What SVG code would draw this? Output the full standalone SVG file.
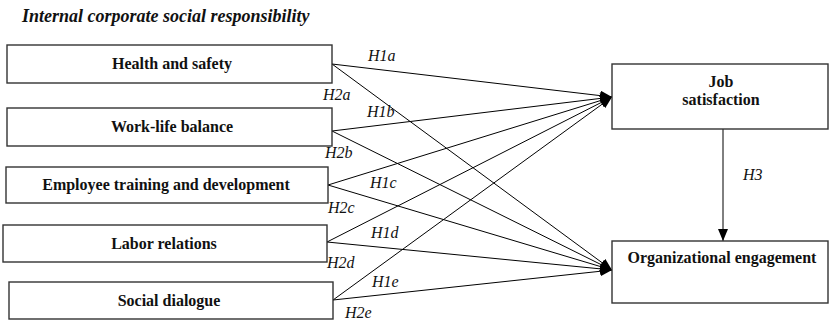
<svg xmlns="http://www.w3.org/2000/svg" width="829" height="321" viewBox="0 0 829 321">
<defs>
<style>
.box{fill:#fff;stroke:#333;stroke-width:1.4}
.bt{font-family:'Liberation Serif','Times New Roman',serif;font-weight:bold;font-size:16px;fill:#111;text-anchor:middle}
.lbl{font-family:'Liberation Serif','Times New Roman',serif;font-style:italic;font-size:16px;fill:#111}
.title{font-family:'Liberation Serif','Times New Roman',serif;font-style:italic;font-weight:bold;font-size:18px;fill:#111}
.ln{stroke:#000;stroke-width:1;fill:none;marker-end:url(#ah)}
</style>
<marker id="ah" markerUnits="userSpaceOnUse" markerWidth="12" markerHeight="10" refX="12" refY="5" orient="auto">
<path d="M0,0 L12,5 L0,10 Z" fill="#000"/>
</marker>
</defs>
<rect width="829" height="321" fill="#fff"/>
<text class="title" x="22" y="22">Internal corporate social responsibility</text>

<g id="connectors">
<line class="ln" x1="332" y1="64" x2="612" y2="97"/>
<line class="ln" x1="332" y1="64" x2="612" y2="270"/>
<line class="ln" x1="332" y1="131" x2="612" y2="97"/>
<line class="ln" x1="332" y1="131" x2="612" y2="270"/>
<line class="ln" x1="328" y1="185" x2="612" y2="97"/>
<line class="ln" x1="328" y1="185" x2="612" y2="270"/>
<line class="ln" x1="327" y1="242" x2="612" y2="97"/>
<line class="ln" x1="327" y1="242" x2="612" y2="270"/>
<line class="ln" x1="333" y1="300" x2="612" y2="97"/>
<line class="ln" x1="333" y1="300" x2="612" y2="270"/>
<line class="ln" x1="723" y1="129" x2="723" y2="241"/>
<text class="lbl" x="368" y="61">H1a</text>
<text class="lbl" x="323" y="100">H2a</text>
<text class="lbl" x="367" y="117">H1b</text>
<text class="lbl" x="325" y="158">H2b</text>
<text class="lbl" x="370" y="188">H1c</text>
<text class="lbl" x="328" y="213">H2c</text>
<text class="lbl" x="371" y="238">H1d</text>
<text class="lbl" x="327" y="268">H2d</text>
<text class="lbl" x="372" y="287">H1e</text>
<text class="lbl" x="345" y="318">H2e</text>
<text class="lbl" x="743" y="180">H3</text>
</g>

<g id="health">
<rect class="box" x="7" y="45" width="325" height="38"/>
<text class="bt" x="172" y="69">Health and safety</text>
</g>
<g id="worklife">
<rect class="box" x="7" y="108" width="325" height="38"/>
<text class="bt" x="172" y="132">Work-life balance</text>
</g>
<g id="training">
<rect class="box" x="6" y="167" width="322" height="36"/>
<text class="bt" x="166" y="190">Employee training and development</text>
</g>
<g id="labor">
<rect class="box" x="3" y="225" width="324" height="37"/>
<text class="bt" x="164" y="249">Labor relations</text>
</g>
<g id="dialogue">
<rect class="box" x="9" y="282" width="324" height="37"/>
<text class="bt" x="169" y="306">Social dialogue</text>
</g>
<g id="jobsat">
<rect class="box" x="612" y="64" width="216" height="65"/>
<text class="bt" x="721" y="87">Job</text>
<text class="bt" x="721" y="105">satisfaction</text>
</g>
<g id="orgeng">
<rect class="box" x="612" y="241" width="216" height="62"/>
<text class="bt" x="722" y="263">Organizational engagement</text>
</g>
</svg>
